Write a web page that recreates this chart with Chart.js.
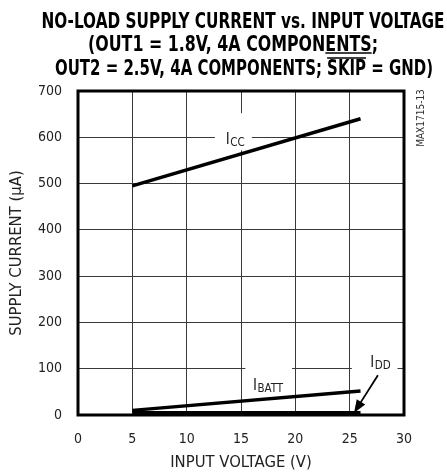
<!DOCTYPE html>
<html>
<head>
<meta charset="utf-8">
<script src="https://cdn.jsdelivr.net/npm/chart.js@4.4.1/dist/chart.umd.min.js"></script>
<style>
  html, body { margin: 0; padding: 0; background: #fff; }
  #wrap { width: 447px; height: 474px; }
</style>
</head>
<body>
<div id="wrap"><canvas id="chart"></canvas></div>
<script>
// values
const voltage = [5, 26];
const iccValues = [495, 640];
const ibattValues = [10, 52];
const iddValues = [5, 5];
const xTicks = [0, 5, 10, 15, 20, 25, 30];
const yTicks = [0, 100, 200, 300, 400, 500, 600, 700];

const titleLines = [
  "NO-LOAD SUPPLY CURRENT vs. INPUT VOLTAGE",
  "(OUT1 = 1.8V, 4A COMPONENTS;",
  "OUT2 = 2.5V, 4A COMPONENTS; SKIP = GND)"
];

const narrow = '"DejaVu Sans Condensed", "Liberation Sans Narrow", sans-serif';

// title layout (pixels)
const titleWidths = [403, 290, 378];
const titleCenters = [243, 233, 244];
const titleBaselines = [28, 50.5, 75];

// curve labels, in data units
const curveLabels = [
  { main: "I", sub: "CC", x: 13.6, y: 585, box: [12.6, 16.0, 572, 652] },
  { main: "I", sub: "BATT", x: 16.1, y: 54, box: [15.4, 19.7, 43, 108] },
  { main: "I", sub: "DD", x: 26.9, y: 104, box: [25.2, 29.4, 54, 136] }
];
const iddArrow = { from: [27.6, 86], to: [25.4, 4.5] };

function toPoints(xs, ys) {
  return xs.map((x, i) => ({ x: x, y: ys[i] }));
}

const titlePlugin = {
  id: "titlePlugin",
  afterDraw(chart) {
    const ctx = chart.ctx;
    ctx.save();
    ctx.fillStyle = "#000";
    ctx.strokeStyle = "#000";
    ctx.font = "bold 21px " + narrow;
    ctx.textBaseline = "alphabetic";
    titleLines.forEach((text, i) => {
      const w = ctx.measureText(text).width;
      const sx = titleWidths[i] / w;
      const left = titleCenters[i] - titleWidths[i] / 2;
      ctx.save();
      ctx.translate(left, titleBaselines[i]);
      ctx.scale(sx, 1);
      ctx.fillText(text, 0, 0);
      ctx.restore();
      // underline under ENTS, overline over SKIP
      let word = null, yOff = 0;
      if (i === 1) { word = "ENTS"; yOff = 2.5; }
      if (i === 2) { word = "SKIP"; yOff = -17; }
      if (word) {
        const idx = text.indexOf(word);
        const x0 = left + ctx.measureText(text.slice(0, idx)).width * sx;
        const x1 = x0 + ctx.measureText(word).width * sx;
        ctx.lineWidth = 1.6;
        ctx.beginPath();
        ctx.moveTo(x0, titleBaselines[i] + yOff);
        ctx.lineTo(x1, titleBaselines[i] + yOff);
        ctx.stroke();
      }
    });
    ctx.restore();
  }
};

const annotatePlugin = {
  id: "annotatePlugin",
  beforeDatasetsDraw(chart) {
    const { ctx, scales: { x, y } } = chart;
    ctx.save();
    ctx.fillStyle = "#fff";
    curveLabels.forEach(l => {
      const x0 = x.getPixelForValue(l.box[0]);
      const x1 = x.getPixelForValue(l.box[1]);
      const y0 = y.getPixelForValue(l.box[3]);
      const y1 = y.getPixelForValue(l.box[2]);
      ctx.fillRect(x0, y0, x1 - x0, y1 - y0);
    });
    ctx.restore();
  },
  afterDatasetsDraw(chart) {
    const { ctx, chartArea, scales: { x, y } } = chart;
    ctx.save();
    ctx.fillStyle = "#222";
    ctx.textBaseline = "alphabetic";
    curveLabels.forEach(l => {
      const px = x.getPixelForValue(l.x);
      const py = y.getPixelForValue(l.y);
      ctx.font = "15px " + narrow;
      ctx.fillText(l.main, px, py);
      const w = ctx.measureText(l.main).width;
      ctx.font = "11.5px " + narrow;
      ctx.fillText(l.sub, px + w + 0.5, py + 2);
    });

    // arrow to the IDD line
    const ax = x.getPixelForValue(iddArrow.from[0]);
    const ay = y.getPixelForValue(iddArrow.from[1]);
    const bx = x.getPixelForValue(iddArrow.to[0]);
    const by = y.getPixelForValue(iddArrow.to[1]);
    const ang = Math.atan2(by - ay, bx - ax);
    const head = 13, half = 5;
    ctx.strokeStyle = "#000";
    ctx.fillStyle = "#000";
    ctx.lineWidth = 1.8;
    ctx.beginPath();
    ctx.moveTo(ax, ay);
    ctx.lineTo(bx - Math.cos(ang) * head * 0.8, by - Math.sin(ang) * head * 0.8);
    ctx.stroke();
    ctx.beginPath();
    ctx.moveTo(bx, by);
    ctx.lineTo(bx - Math.cos(ang) * head - Math.sin(ang) * half, by - Math.sin(ang) * head + Math.cos(ang) * half);
    ctx.lineTo(bx - Math.cos(ang) * head + Math.sin(ang) * half, by - Math.sin(ang) * head - Math.cos(ang) * half);
    ctx.closePath();
    ctx.fill();

    // frame around the plot
    ctx.lineWidth = 3;
    ctx.strokeRect(chartArea.left, chartArea.top, chartArea.right - chartArea.left, chartArea.bottom - chartArea.top);

    // part number on the right side
    ctx.fillStyle = "#333";
    ctx.font = "10px " + narrow;
    ctx.translate(chartArea.right + 17, chartArea.top + 27);
    ctx.rotate(-Math.PI / 2);
    ctx.textAlign = "center";
    ctx.textBaseline = "middle";
    ctx.fillText("MAX1715-13", 0, 0);
    ctx.restore();
  }
};

const lineStyle = {
  borderColor: "#000",
  borderWidth: 3.5,
  pointRadius: 0,
  tension: 0,
  fill: false
};

new Chart(document.getElementById("chart"), {
  type: "line",
  data: {
    datasets: [
      { label: "ICC", data: toPoints(voltage, iccValues), ...lineStyle },
      { label: "IBATT", data: toPoints(voltage, ibattValues), ...lineStyle },
      { label: "IDD", data: toPoints(voltage, iddValues), ...lineStyle }
    ]
  },
  options: {
    responsive: true,
    maintainAspectRatio: false,
    animation: false,
    events: [],
    layout: { padding: { left: 0, top: 91, right: 43, bottom: 0 } },
    plugins: {
      legend: { display: false },
      tooltip: { enabled: false }
    },
    scales: {
      x: {
        type: "linear",
        min: 0,
        max: 30,
        afterBuildTicks: s => { s.ticks = xTicks.map(v => ({ value: v })); },
        afterFit: s => { s.height = 59; },
        grid: { color: "#3a3a3a", lineWidth: 1, drawTicks: false },
        border: { display: false },
        ticks: { color: "#222", padding: 16, font: { family: narrow, size: 14 } },
        title: {
          display: true,
          text: "INPUT VOLTAGE (V)",
          color: "#222",
          font: { family: narrow, size: 16.5 },
          padding: { top: 0, bottom: 1 }
        }
      },
      y: {
        type: "linear",
        min: 0,
        max: 700,
        afterBuildTicks: s => { s.ticks = yTicks.map(v => ({ value: v })); },
        afterFit: s => { s.width = 78; },
        grid: { color: "#3a3a3a", lineWidth: 1, drawTicks: false },
        border: { display: false },
        ticks: { color: "#222", padding: 16, font: { family: narrow, size: 14 } },
        title: {
          display: true,
          text: "SUPPLY CURRENT (µA)",
          color: "#222",
          font: { family: narrow, size: 16.5 },
          padding: { top: 7, bottom: 0 }
        }
      }
    }
  },
  plugins: [titlePlugin, annotatePlugin]
});
</script>
</body>
</html>
